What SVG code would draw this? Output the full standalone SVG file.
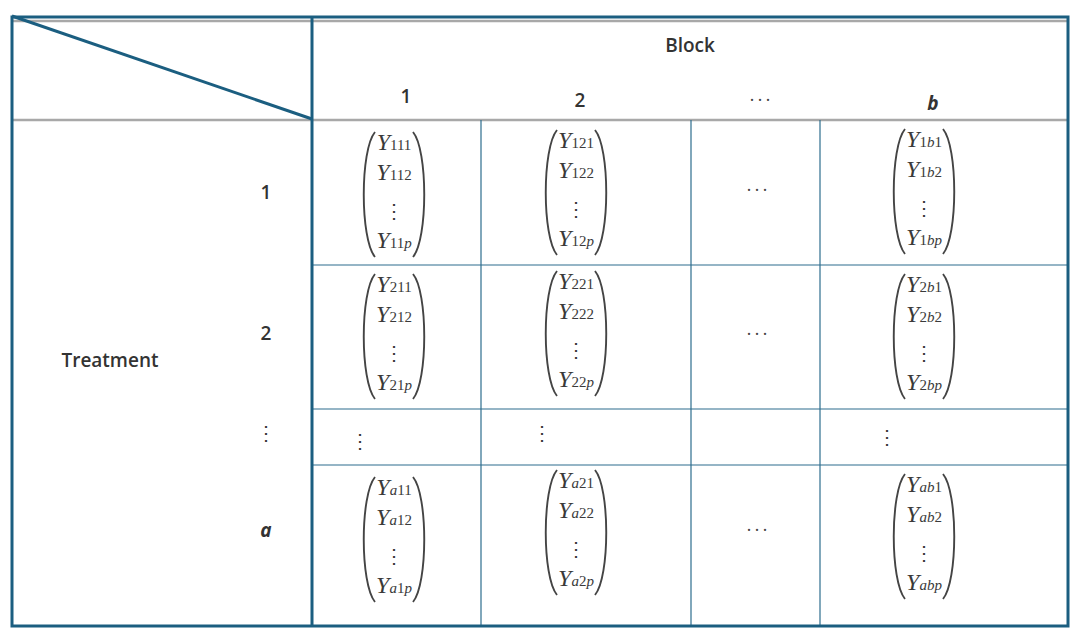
<svg xmlns="http://www.w3.org/2000/svg" width="1078" height="634" viewBox="0 0 1078 634">
<defs>
<style>
.hd{font-family:"Open Sans","Noto Sans","Liberation Sans",sans-serif;font-size:19px;fill:#333}
.md{font-weight:600}
.Y{font-family:"Liberation Serif","DejaVu Serif",serif;font-style:italic;font-size:24px;fill:#3a3a3a}
.s{font-size:15px;font-style:normal}
.si{font-size:15px;font-style:italic}
.vd{font-family:"Liberation Serif",serif;font-size:20px;fill:#3a3a3a}
.dd{font-family:"Liberation Serif",serif;font-size:18px;fill:#444;letter-spacing:2px}
.par{fill:none;stroke:#444;stroke-width:1.9}
.thick{stroke:#1b5e80;stroke-width:3;fill:none}
.thin{stroke:#2d6d8e;stroke-width:1.2}
.gray{stroke:#a8a8a8;stroke-width:2.5}
</style>
<g id="parens">
<path class="par" d="M-19,0 C-34,18 -34,107 -19,125"/>
<path class="par" d="M19,0 C34,18 34,107 19,125"/>
</g>
</defs>
<rect width="1078" height="634" fill="#fff"/>
<g id="grid">
<line class="gray" x1="12" y1="21" x2="1068" y2="21"/>
<line class="gray" x1="12" y1="120" x2="1068" y2="120"/>
<line class="thin" x1="481" y1="120" x2="481" y2="626"/>
<line class="thin" x1="691" y1="120" x2="691" y2="626"/>
<line class="thin" x1="820" y1="120" x2="820" y2="626"/>
<line class="thin" x1="312" y1="265" x2="1068" y2="265"/>
<line class="thin" x1="312" y1="409" x2="1068" y2="409"/>
<line class="thin" x1="312" y1="465" x2="1068" y2="465"/>
<rect class="thick" x="12" y="17" width="1056" height="609"/>
<line class="thick" x1="312" y1="17" x2="312" y2="626"/>
<line class="thick" x1="12" y1="16" x2="312" y2="119"/>
</g>
<g id="headers">
<text class="hd md" x="690" y="52" text-anchor="middle">Block</text>
<text class="hd md" x="406" y="103" text-anchor="middle">1</text>
<text class="hd md" x="580" y="107" text-anchor="middle">2</text>
<text class="dd" x="761" y="106" text-anchor="middle">···</text>
<text class="hd" x="933" y="110" text-anchor="middle" font-weight="bold" font-style="italic">b</text>
<text class="hd md" x="110" y="367" text-anchor="middle">Treatment</text>
<text class="hd md" x="266" y="199" text-anchor="middle">1</text>
<text class="hd md" x="266" y="340" text-anchor="middle">2</text>
<text class="vd" x="266" y="440" text-anchor="middle">⋮</text>
<text class="hd" x="266" y="537" text-anchor="middle" font-style="italic" font-weight="bold">a</text>
</g>
<g id="cells">
<g transform="translate(394,132)"><use href="#parens"/>
<text class="Y" text-anchor="middle" x="0" y="18">Y<tspan class="s">111</tspan></text>
<text class="Y" text-anchor="middle" x="0" y="48">Y<tspan class="s">112</tspan></text>
<text class="vd" text-anchor="middle" x="0" y="86">⋮</text>
<text class="Y" text-anchor="middle" x="0" y="116">Y<tspan class="s">11</tspan><tspan class="si">p</tspan></text></g>
<g transform="translate(576,130)"><use href="#parens"/>
<text class="Y" text-anchor="middle" x="0" y="18">Y<tspan class="s">121</tspan></text>
<text class="Y" text-anchor="middle" x="0" y="48">Y<tspan class="s">122</tspan></text>
<text class="vd" text-anchor="middle" x="0" y="86">⋮</text>
<text class="Y" text-anchor="middle" x="0" y="116">Y<tspan class="s">12</tspan><tspan class="si">p</tspan></text></g>
<text class="dd" x="758" y="196" text-anchor="middle">···</text>
<g transform="translate(924,129)"><use href="#parens"/>
<text class="Y" text-anchor="middle" x="0" y="18">Y<tspan class="s">1</tspan><tspan class="si">b</tspan><tspan class="s">1</tspan></text>
<text class="Y" text-anchor="middle" x="0" y="48">Y<tspan class="s">1</tspan><tspan class="si">b</tspan><tspan class="s">2</tspan></text>
<text class="vd" text-anchor="middle" x="0" y="86">⋮</text>
<text class="Y" text-anchor="middle" x="0" y="116">Y<tspan class="s">1</tspan><tspan class="si">bp</tspan></text></g>

<g transform="translate(394,274)"><use href="#parens"/>
<text class="Y" text-anchor="middle" x="0" y="18">Y<tspan class="s">211</tspan></text>
<text class="Y" text-anchor="middle" x="0" y="48">Y<tspan class="s">212</tspan></text>
<text class="vd" text-anchor="middle" x="0" y="86">⋮</text>
<text class="Y" text-anchor="middle" x="0" y="116">Y<tspan class="s">21</tspan><tspan class="si">p</tspan></text></g>
<g transform="translate(576,271)"><use href="#parens"/>
<text class="Y" text-anchor="middle" x="0" y="18">Y<tspan class="s">221</tspan></text>
<text class="Y" text-anchor="middle" x="0" y="48">Y<tspan class="s">222</tspan></text>
<text class="vd" text-anchor="middle" x="0" y="86">⋮</text>
<text class="Y" text-anchor="middle" x="0" y="116">Y<tspan class="s">22</tspan><tspan class="si">p</tspan></text></g>
<text class="dd" x="758" y="340" text-anchor="middle">···</text>
<g transform="translate(924,274)"><use href="#parens"/>
<text class="Y" text-anchor="middle" x="0" y="18">Y<tspan class="s">2</tspan><tspan class="si">b</tspan><tspan class="s">1</tspan></text>
<text class="Y" text-anchor="middle" x="0" y="48">Y<tspan class="s">2</tspan><tspan class="si">b</tspan><tspan class="s">2</tspan></text>
<text class="vd" text-anchor="middle" x="0" y="86">⋮</text>
<text class="Y" text-anchor="middle" x="0" y="116">Y<tspan class="s">2</tspan><tspan class="si">bp</tspan></text></g>

<text class="vd" text-anchor="middle" x="360" y="448">⋮</text>
<text class="vd" text-anchor="middle" x="542" y="440">⋮</text>
<text class="vd" text-anchor="middle" x="887" y="444">⋮</text>

<g transform="translate(394,477)"><use href="#parens"/>
<text class="Y" text-anchor="middle" x="0" y="18">Y<tspan class="si">a</tspan><tspan class="s">11</tspan></text>
<text class="Y" text-anchor="middle" x="0" y="48">Y<tspan class="si">a</tspan><tspan class="s">12</tspan></text>
<text class="vd" text-anchor="middle" x="0" y="86">⋮</text>
<text class="Y" text-anchor="middle" x="0" y="116">Y<tspan class="si">a</tspan><tspan class="s">1</tspan><tspan class="si">p</tspan></text></g>
<g transform="translate(576,470)"><use href="#parens"/>
<text class="Y" text-anchor="middle" x="0" y="18">Y<tspan class="si">a</tspan><tspan class="s">21</tspan></text>
<text class="Y" text-anchor="middle" x="0" y="48">Y<tspan class="si">a</tspan><tspan class="s">22</tspan></text>
<text class="vd" text-anchor="middle" x="0" y="86">⋮</text>
<text class="Y" text-anchor="middle" x="0" y="116">Y<tspan class="si">a</tspan><tspan class="s">2</tspan><tspan class="si">p</tspan></text></g>
<text class="dd" x="758" y="536" text-anchor="middle">···</text>
<g transform="translate(924,474)"><use href="#parens"/>
<text class="Y" text-anchor="middle" x="0" y="18">Y<tspan class="si">ab</tspan><tspan class="s">1</tspan></text>
<text class="Y" text-anchor="middle" x="0" y="48">Y<tspan class="si">ab</tspan><tspan class="s">2</tspan></text>
<text class="vd" text-anchor="middle" x="0" y="86">⋮</text>
<text class="Y" text-anchor="middle" x="0" y="116">Y<tspan class="si">abp</tspan></text></g>
</g>
</svg>
